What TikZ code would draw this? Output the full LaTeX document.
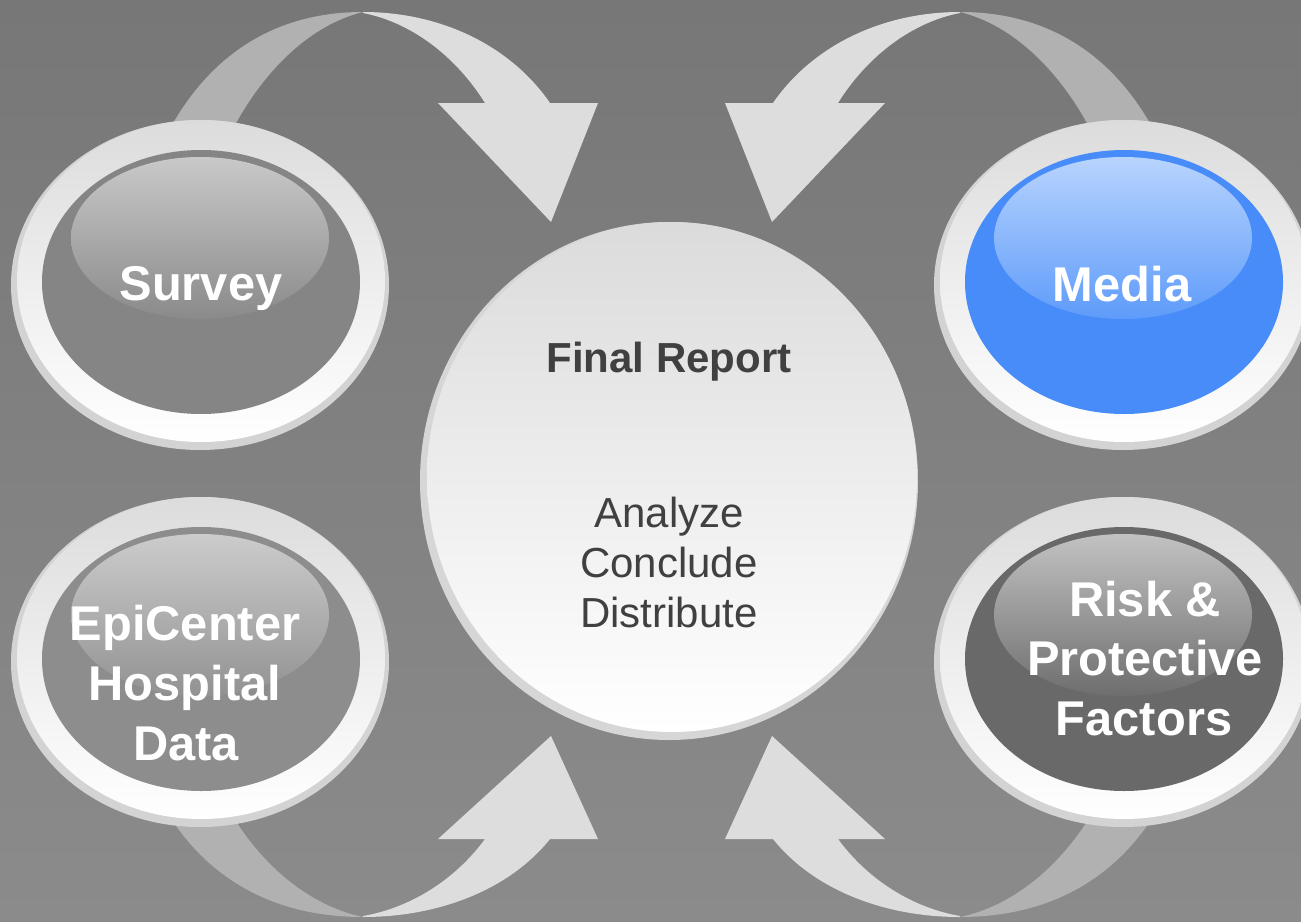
\documentclass[tikz,border=0pt]{standalone}
\usepackage{fontspec}
\setmainfont{Liberation Sans}
\definecolor{bgtop}{HTML}{777777}
\definecolor{bgbot}{HTML}{8B8B8B}
\definecolor{ribdark}{HTML}{B1B1B1}
\definecolor{riblight}{HTML}{DDDDDD}
\definecolor{rimc}{HTML}{D3D3D3}
\definecolor{ringtop}{HTML}{DCDCDC}
\definecolor{ringbot}{HTML}{FFFFFF}
\definecolor{surveyin}{HTML}{858585}
\definecolor{surveyhltop}{HTML}{C9C9C9}
\definecolor{surveyhlbot}{HTML}{8A8A8A}
\definecolor{epiin}{HTML}{8D8D8D}
\definecolor{epihltop}{HTML}{CCCCCC}
\definecolor{epihlbot}{HTML}{929292}
\definecolor{mediain}{HTML}{488CF9}
\definecolor{mediahltop}{HTML}{B8D4FD}
\definecolor{mediahlbot}{HTML}{5E9BFA}
\definecolor{riskin}{HTML}{696969}
\definecolor{riskhltop}{HTML}{C2C2C2}
\definecolor{riskhlbot}{HTML}{6E6E6E}
\definecolor{crim}{HTML}{D6D6D6}
\definecolor{ctop}{HTML}{DBDBDB}
\definecolor{cbot}{HTML}{FFFFFF}
\definecolor{textdark}{HTML}{404040}
\newcommand{\glassring}[5]{%
  \fill[rimc] (#1,#2) ellipse [x radius=189, y radius=165];
  \shade[top color=ringtop, bottom color=ringbot] ({#1+1},{#2-4}) ellipse [x radius=184, y radius=161];
  \fill[#3] ({#1+1},{#2-3}) ellipse [x radius=159, y radius=132];
  \shade[top color=#4, bottom color=#5] (#1,{#2-47}) ellipse [x radius=129, y radius=81];
}
\tikzset{
  lbl/.style={text=white, inner sep=0pt, anchor=base, font=\bfseries\fontsize{24.4}{29}\selectfont},
  ctitle/.style={text=textdark, inner sep=0pt, anchor=base, font=\bfseries\fontsize{21}{25}\selectfont},
  cbody/.style={text=textdark, inner sep=0pt, anchor=base, font=\fontsize{21}{25}\selectfont},
}
\begin{document}
\begin{tikzpicture}[x=0.5pt,y=-0.5pt]
\useasboundingbox (0,0) rectangle (1301,921);
\clip (0,0) rectangle (1301,921);
\shade[top color=bgtop, bottom color=bgbot] (0,0) rectangle (1301,921);

% top-left ribbon arrow
\fill[ribdark] (172,125) .. controls (215,50) and (280,12) .. (363,12) .. controls (310,25) and (265,70) .. (235,125) -- cycle;
\fill[riblight] (363,12) .. controls (440,12) and (510,45) .. (550,103) -- (598,103) -- (551,222) -- (438,103) -- (485,103) .. controls (455,55) and (410,22) .. (363,13) -- cycle;
% top-right ribbon arrow
\fill[ribdark] (1151,125) .. controls (1108,50) and (1043,12) .. (960,12) .. controls (1013,25) and (1058,70) .. (1088,125) -- cycle;
\fill[riblight] (960,12) .. controls (883,12) and (813,45) .. (773,103) -- (725,103) -- (772,222) -- (885,103) -- (838,103) .. controls (868,55) and (913,22) .. (960,13) -- cycle;
% bottom-left ribbon arrow
\fill[ribdark] (172,820) .. controls (215,884) and (280,917) .. (363,917) .. controls (310,906) and (265,867) .. (235,820) -- cycle;
\fill[riblight] (363,917) .. controls (440,917) and (510,889) .. (550,839) -- (598,839) -- (551,736) -- (438,839) -- (485,839) .. controls (455,880) and (410,908) .. (363,916) -- cycle;
% bottom-right ribbon arrow
\fill[ribdark] (1151,820) .. controls (1108,884) and (1043,917) .. (960,917) .. controls (1013,906) and (1058,867) .. (1088,820) -- cycle;
\fill[riblight] (960,917) .. controls (883,917) and (813,889) .. (773,839) -- (725,839) -- (772,736) -- (885,839) -- (838,839) .. controls (868,880) and (913,908) .. (960,916) -- cycle;

% rings
\glassring{200}{285}{surveyin}{surveyhltop}{surveyhlbot}
\glassring{200}{662}{epiin}{epihltop}{epihlbot}
\glassring{1123}{285}{mediain}{mediahltop}{mediahlbot}
\glassring{1123}{662}{riskin}{riskhltop}{riskhlbot}

% centre circle
\fill[crim] (669,481) ellipse [x radius=249, y radius=259];
\shade[top color=ctop, bottom color=cbot] (672,477) ellipse [x radius=245, y radius=255];

% labels
\node[lbl] (survey) at (201,300) {Survey};
\node[lbl] (media) at (1122,301) {Media};
\node[lbl] (epi1) at (185,640) {EpiCenter};
\node[lbl] (epi2) at (185,700) {Hospital};
\node[lbl] (epi3) at (186,760) {Data};
\node[lbl] (risk1) at (1145,616) {Risk \&};
\node[lbl] (risk2) at (1145,675) {Protective};
\node[lbl] (risk3) at (1144,735) {Factors};
\node[ctitle] (final) at (669,372) {Final Report};
\node[cbody] (analyze) at (669,527) {Analyze};
\node[cbody] (conclude) at (669,577) {Conclude};
\node[cbody] (distribute) at (669,627) {Distribute};
\end{tikzpicture}
\end{document}
